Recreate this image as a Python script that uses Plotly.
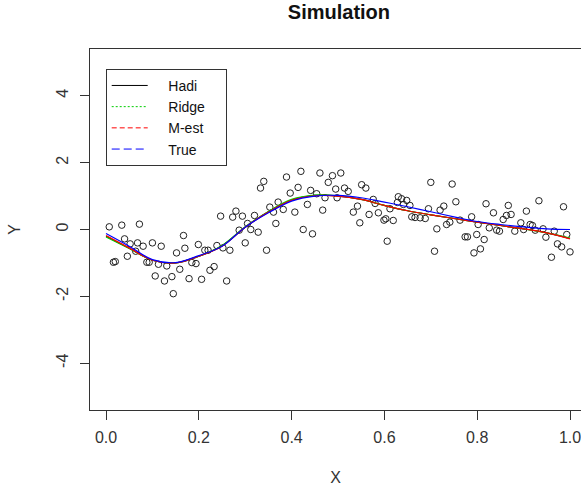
import plotly.graph_objects as go

# ---- data ----
pts_x = [0.007,0.034,0.072,0.040,0.052,0.068,0.080,0.100,0.119,0.167,0.152,0.170,0.016,0.020,0.046,0.064,0.088,0.093,0.113,0.131,0.106,0.126,0.142,0.159,0.179,0.145,0.185,0.194,
         0.224,0.233,0.206,0.260,0.199,0.213,0.220,0.239,0.252,0.267,0.247,0.273,0.280,0.294,0.320,0.287,0.305,0.312,0.328,0.300,0.346,
         0.340,0.333,0.389,0.397,0.353,0.371,0.382,0.366,0.361,0.407,
         0.420,0.461,0.488,0.506,0.479,0.495,0.514,0.522,0.414,0.441,0.454,0.472,0.498,0.551,0.560,0.434,0.467,0.425,0.445,0.542,0.533,0.547,0.567,0.587,0.576,0.580,0.599,0.603,0.619,0.606,
         0.630,0.637,0.648,0.628,0.641,0.655,0.612,0.659,0.666,0.677,0.688,
         0.700,0.746,0.695,0.720,0.728,0.754,0.713,0.734,0.741,0.763,0.788,0.802,0.774,0.779,0.799,0.708,0.793,0.807,0.815,
         0.819,0.867,0.933,0.986,0.835,0.863,0.873,0.906,0.856,0.826,0.842,0.848,0.881,0.894,0.900,0.914,0.919,0.925,0.942,0.948,0.966,0.973,0.982,0.960,1.000,0.993]
pts_y = [0.08,0.13,0.16,-0.28,-0.43,-0.40,-0.50,-0.40,-0.50,-0.18,-0.70,-0.56,-0.98,-0.96,-0.80,-0.65,-0.98,-0.98,-1.04,-1.09,-1.39,-1.54,-1.41,-1.19,-1.47,-1.92,-0.99,-1.02,
         -1.22,-1.11,-1.49,-1.54,-0.45,-0.62,-0.62,-0.48,-0.55,-0.62,0.40,0.37,0.55,0.40,0.42,-0.02,0.18,0.00,-0.08,-0.40,-0.62,
         1.44,1.24,1.57,1.09,0.67,0.82,0.60,0.18,0.52,0.52,
         1.74,1.69,1.61,1.69,1.41,1.21,1.24,1.14,1.26,1.17,1.07,0.95,0.95,1.34,1.24,0.75,0.58,0.00,-0.13,0.70,0.52,0.20,0.45,0.50,0.90,0.78,0.28,0.32,0.27,-0.35,
         0.98,0.92,0.87,0.81,0.75,0.72,0.62,0.38,0.36,0.35,0.33,
         1.41,1.36,0.62,0.58,0.70,0.83,0.02,0.15,0.22,0.28,0.38,0.15,-0.22,-0.22,-0.15,-0.65,-0.70,-0.58,-0.30,
         0.77,0.72,0.86,0.68,0.50,0.42,0.45,0.55,0.30,0.05,-0.02,-0.05,-0.05,0.20,0.00,0.15,0.12,-0.02,0.02,-0.23,-0.05,-0.43,-0.52,-0.83,-0.67,-0.15]

grid_x = [0.0,0.05,0.10,0.15,0.20,0.25,0.30,0.35,0.40,0.45,0.50,0.55,0.60,0.65,0.70,0.75,0.80,0.85,0.90,0.95,1.00]
hadi_y  = [-0.20,-0.56,-0.92,-1.00,-0.80,-0.49,0.07,0.53,0.88,1.02,1.00,0.90,0.72,0.56,0.44,0.33,0.22,0.12,0.02,-0.10,-0.27]
ridge_y = [-0.22,-0.57,-0.92,-1.00,-0.80,-0.48,0.08,0.54,0.90,1.03,1.01,0.90,0.72,0.56,0.44,0.33,0.22,0.12,0.02,-0.10,-0.26]
mest_y  = [-0.18,-0.55,-0.92,-1.00,-0.80,-0.50,0.07,0.52,0.87,1.01,1.00,0.90,0.72,0.56,0.44,0.33,0.22,0.12,0.02,-0.10,-0.28]
true_y  = [-0.12,-0.50,-0.90,-0.99,-0.78,-0.50,0.07,0.50,0.85,1.00,1.02,0.95,0.82,0.68,0.53,0.38,0.24,0.15,0.08,0.02,0.00]

x_ticks = [0.0, 0.2, 0.4, 0.6, 0.8, 1.0]
x_ticklabels = ["0.0", "0.2", "0.4", "0.6", "0.8", "1.0"]
y_ticks = [-4, -2, 0, 2, 4]
y_ticklabels = ["-4", "-2", "0", "2", "4"]

series = [
    ("Hadi", hadi_y, "#000000", "solid"),
    ("Ridge", ridge_y, "#00CC00", "2px,2px"),
    ("M-est", mest_y, "#FF0000", "5px,3px"),
    ("True", true_y, "#0000FF", "8px,4px"),
]

FONT = "Liberation Sans, Arial, sans-serif"
NB = "\u00a0"
fig = go.Figure()
fig.add_trace(go.Scatter(x=pts_x, y=pts_y, mode="markers", showlegend=False,
                         marker=dict(symbol="circle-open", size=6.5, color="#222222",
                                     line=dict(width=1, color="#222222"))))
for name, ys, col, dash in series:
    fig.add_trace(go.Scatter(x=grid_x, y=ys, mode="lines", showlegend=False,
                             line=dict(color=col, width=1.2, shape="spline")))
for name, ys, col, dash in series:
    fig.add_trace(go.Scatter(x=[None], y=[None], mode="lines", name=NB * 4 + name + NB * 4,
                             line=dict(color=col, width=1, dash=dash)))

fig.update_layout(
    width=581, height=489,
    margin=dict(l=90, r=0, t=49, b=79),
    paper_bgcolor="white", plot_bgcolor="white",
    font=dict(family=FONT, color="#222222"),
    title=dict(text="<b>Simulation</b>", font=dict(size=20, color="#111111", family=FONT),
               xref="paper", x=0.507, xanchor="center", yref="container", y=0.976, yanchor="middle"),
    legend=dict(x=0.032, y=0.945, xanchor="left", yanchor="top", bgcolor="white",
                bordercolor="#333333", borderwidth=1, font=dict(size=14, color="#111111"),
                itemwidth=36, tracegroupgap=0),
    showlegend=True,
)
fig.update_xaxes(range=[-0.0345, 1.0237], showgrid=False, zeroline=False,
                 showline=True, mirror=True, linecolor="#333333", linewidth=1,
                 ticks="outside", ticklen=9, tickcolor="#333333", tickvals=x_ticks, ticktext=x_ticklabels,
                 tickfont=dict(size=16, color="#333333"), ticklabeloverflow="allow", ticklabelstandoff=4,
                 title=dict(text="X", font=dict(size=16, color="#333333"), standoff=26))
fig.update_yaxes(range=[-5.4, 5.4], showgrid=False, zeroline=False,
                 showline=True, mirror=False, linecolor="#333333", linewidth=1,
                 ticks="outside", ticklen=9, tickcolor="#333333", tickvals=y_ticks, ticktext=y_ticklabels,
                 tickangle=-90, tickfont=dict(size=16, color="#333333"), ticklabelstandoff=6,
                 title=dict(text="Y", font=dict(size=16, color="#333333"), standoff=28))

fig.write_html("out.html")
